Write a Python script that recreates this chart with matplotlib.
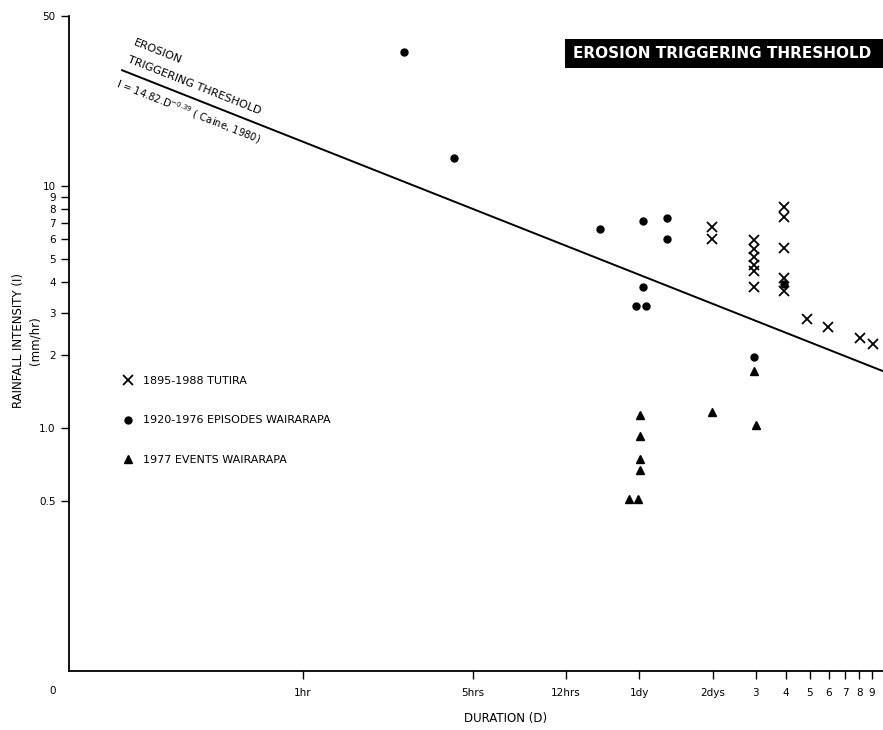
import matplotlib
matplotlib.use('Agg')
from matplotlib import pyplot as plt
from matplotlib.patches import Rectangle

plt.rcParams['font.family'] = ['DejaVu Sans Condensed', 'DejaVu Sans']

# Duration in hours, intensity in mm/hr
tutira_d = [47.6, 47.6, 71.0, 71.0, 71.0, 71.0, 71.0, 71.0,
            93.8, 93.8, 93.8, 93.8, 93.8, 116.8, 143.2, 193.2, 217.7]
tutira_i = [6.77, 6.02, 5.97, 5.47, 5.08, 4.70, 4.44, 3.81,
            8.17, 7.42, 5.53, 4.16, 3.67, 2.81, 2.61, 2.35, 2.22]

episodes_d = [2.61, 4.18, 16.5, 24.97, 31.1, 31.1, 24.8, 23.3, 25.6, 71.2, 93.8]
episodes_i = [35.6, 12.98, 6.6, 7.17, 7.33, 6.02, 3.83, 3.18, 3.18, 1.97, 3.92]

events_d = [24.2, 24.2, 24.2, 24.2, 21.7, 23.7, 47.6, 72.3, 71.2]
events_i = [1.13, 0.933, 0.747, 0.673, 0.511, 0.511, 1.17, 1.03, 1.73]

# threshold line I = 14.82 D^-0.39 (end points)
threshold_d = [0.18, 240]
threshold_i = [30.0, 1.72]

x_ticks = [1, 5, 12, 24, 48, 72, 96, 120, 144, 168, 192, 216]
x_labels = ['1hr', '5hrs', '12hrs', '1dy', '2dys', '3', '4', '5', '6', '7', '8', '9']
y_ticks = [0.5, 1, 2, 3, 4, 5, 6, 7, 8, 9, 10, 50]
y_labels = ['0.5', '1.0', '2', '3', '4', '5', '6', '7', '8', '9', '10', '50']

fig = plt.figure(figsize=(8.83, 7.30), dpi=100)
ax = fig.add_axes([69 / 883, 1 - 671 / 730, 1 - 69 / 883, (671 - 16) / 730])
ax.set_xscale('log')
ax.set_yscale('log')
ax.set_xlim(0.11, 240)
ax.set_ylim(0.1, 50)

ax.plot(threshold_d, threshold_i, color='black', lw=1.4, solid_capstyle='butt')
ax.plot(tutira_d, tutira_i, 'x', color='black', ms=6.5, mew=1.3,
        label='1895-1988 TUTIRA')
ax.plot(episodes_d, episodes_i, 'o', color='black', ms=5,
        label='1920-1976 EPISODES WAIRARAPA')
ax.plot(events_d, events_i, '^', color='black', ms=6,
        label='1977 EVENTS WAIRARAPA')

# axes
for s in ['top', 'right']:
    ax.spines[s].set_visible(False)
for s in ['left', 'bottom']:
    ax.spines[s].set_linewidth(1.3)
ax.minorticks_off()
ax.set_xticks(x_ticks)
ax.set_xticklabels(x_labels)
ax.set_yticks(y_ticks)
ax.set_yticklabels(y_labels)
ax.tick_params(axis='both', direction='out', length=6, width=1, labelsize=7.5)
ax.tick_params(axis='x', pad=6)

ax.set_xlabel('DURATION (D)', fontsize=8.5)
ax.xaxis.set_label_coords(0.536, -0.062)
ax.set_ylabel('RAINFALL INTENSITY (I)\n(mm/hr)', fontsize=8.5, linespacing=1.3)
ax.yaxis.set_label_coords(-0.034, 0.505)
ax.text(-0.02, -0.03, '0', transform=ax.transAxes, fontsize=7.5,
        ha='center', va='center')

# threshold annotation along the line
ang = -21.6
ax.text(0.201, 37.8, 'EROSION', rotation=ang, rotation_mode='anchor',
        fontsize=8, ha='left', va='baseline')
ax.text(0.190, 32.2, 'TRIGGERING THRESHOLD', rotation=ang, rotation_mode='anchor',
        fontsize=8, ha='left', va='baseline')
ax.text(0.170, 25.5, r'I = 14.82.D$^{-0.39}$ ( Caine, 1980)', rotation=ang,
        rotation_mode='anchor', fontsize=7.2, ha='left', va='baseline')

ax.legend(loc='upper left', bbox_to_anchor=(0.139, 1 - 376 / 730),
          bbox_transform=fig.transFigure, frameon=False, fontsize=8,
          handlelength=1.0, handletextpad=0.8, labelspacing=2.65, borderpad=0,
          borderaxespad=0)

# title box
fig.patches.append(Rectangle((565 / 883, 1 - 68 / 730), 1, 29 / 730,
                             transform=fig.transFigure, facecolor='black',
                             edgecolor='none'))
fig.text(573 / 883, 1 - 54 / 730, 'EROSION TRIGGERING THRESHOLD',
         color='white', fontsize=11, fontweight='bold', ha='left', va='center',
         family='DejaVu Sans')

fig.savefig('out.png', dpi=100)
